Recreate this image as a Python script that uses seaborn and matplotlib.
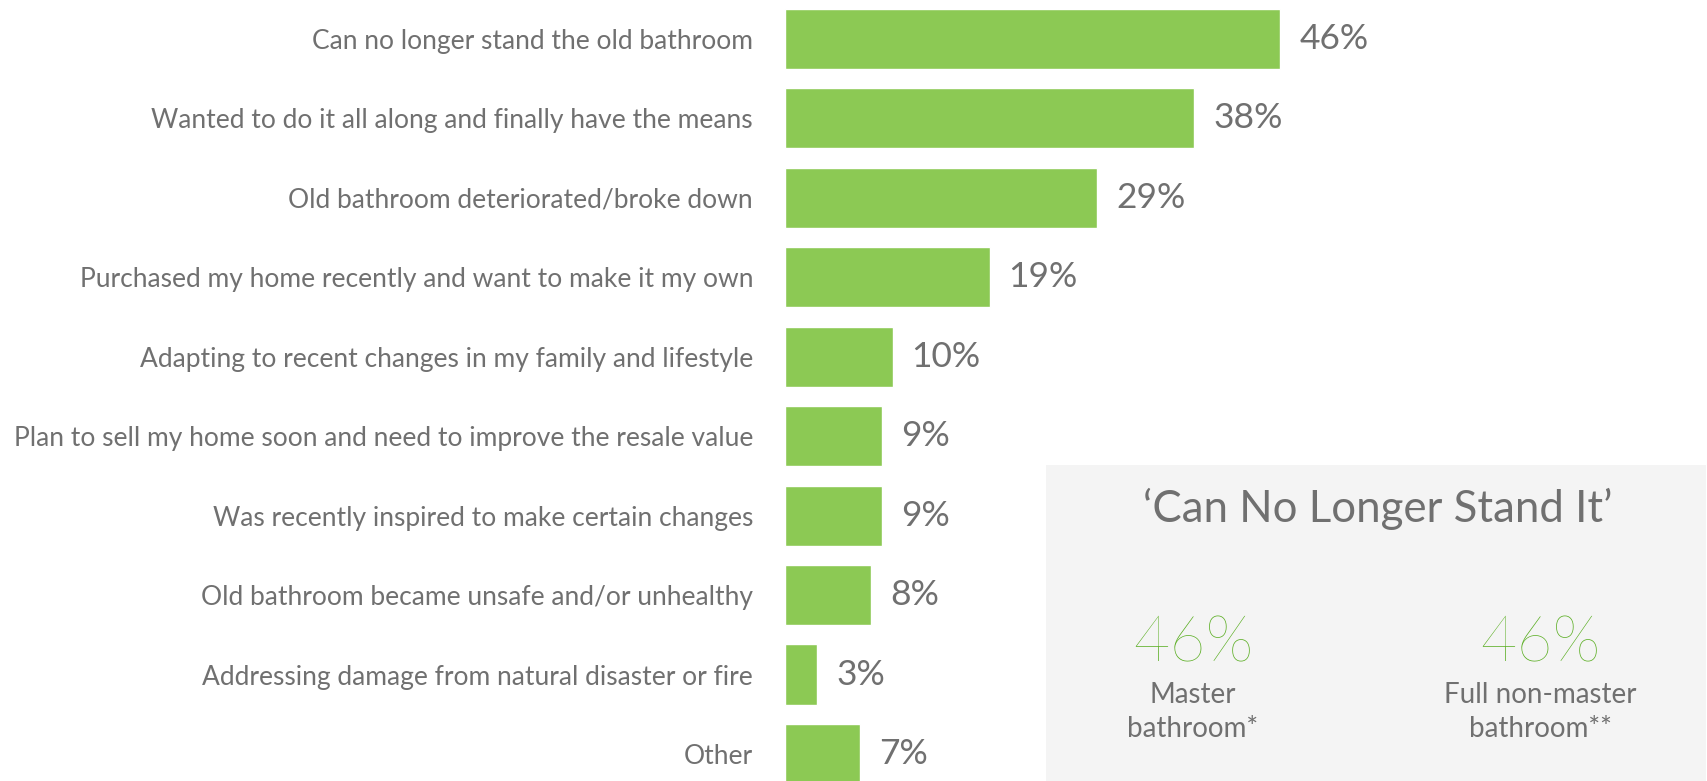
import pandas as pd
import seaborn as sns
import matplotlib.pyplot as plt
from matplotlib.patches import Rectangle

sns.set_theme(style="white")
plt.rcParams['font.family'] = ['Lato', 'DejaVu Sans']

reasons = [
    "Can no longer stand the old bathroom",
    "Wanted to do it all along and finally have the means",
    "Old bathroom deteriorated/broke down",
    "Purchased my home recently and want to make it my own",
    "Adapting to recent changes in my family and lifestyle",
    "Plan to sell my home soon and need to improve the resale value",
    "Was recently inspired to make certain changes",
    "Old bathroom became unsafe and/or unhealthy",
    "Addressing damage from natural disaster or fire",
    "Other",
]
shares = [46, 38, 29, 19, 10, 9, 9, 8, 3, 7]

box_title = "\u2018Can No Longer Stand It\u2019"
box_values = ["46%", "46%"]
box_labels = ["Master\nbathroom*", "Full non-master\nbathroom**"]

GREEN = "#8cc954"
TEXT_GREEN = "#58ad1f"
GRAY = "#707070"

df = pd.DataFrame({"reason": reasons, "share": shares})

W, H = 1708, 781
fig = plt.figure(figsize=(W / 100, H / 100), dpi=100)
ax = fig.add_axes([785 / W, 0, (W - 785) / W, 1])

sns.barplot(data=df, y="reason", x="share", orient="h", color=GREEN,
            saturation=1, width=0.76, ax=ax)
ax.set_xlim(0, 85.7)
ax.set_ylim(9.337, -0.487)
ax.bar_label(ax.containers[0], fmt="%d%%", padding=13.5, fontsize=25.5,
             color=GRAY)

ax.set_xlabel("")
ax.set_ylabel("")
ax.set_xticks([])
ax.tick_params(axis="y", length=0, pad=23, labelsize=19, labelcolor=GRAY)
sns.despine(ax=ax, left=True, bottom=True)
ax.patch.set_visible(False)

# grey call-out box
fig.add_artist(Rectangle((1046 / W, 0), (1706 - 1046) / W, (H - 465) / H,
                         transform=fig.transFigure, facecolor="#f4f4f4",
                         edgecolor="none", zorder=1))
fig.text(1378 / W, 1 - 509 / H, box_title, ha="center", va="center",
         fontsize=31.5, color=GRAY, zorder=2)
for cx, val, lab in zip([1193, 1540], box_values, box_labels):
    fig.text(cx / W, 1 - 644 / H, val, ha="center", va="center",
             fontsize=45, fontweight="light", color=TEXT_GREEN, zorder=2)
    fig.text(cx / W, 1 - 712 / H, lab, ha="center", va="center",
             fontsize=20, color=GRAY, zorder=2, linespacing=1.4)

fig.savefig("out.png", dpi=100)
